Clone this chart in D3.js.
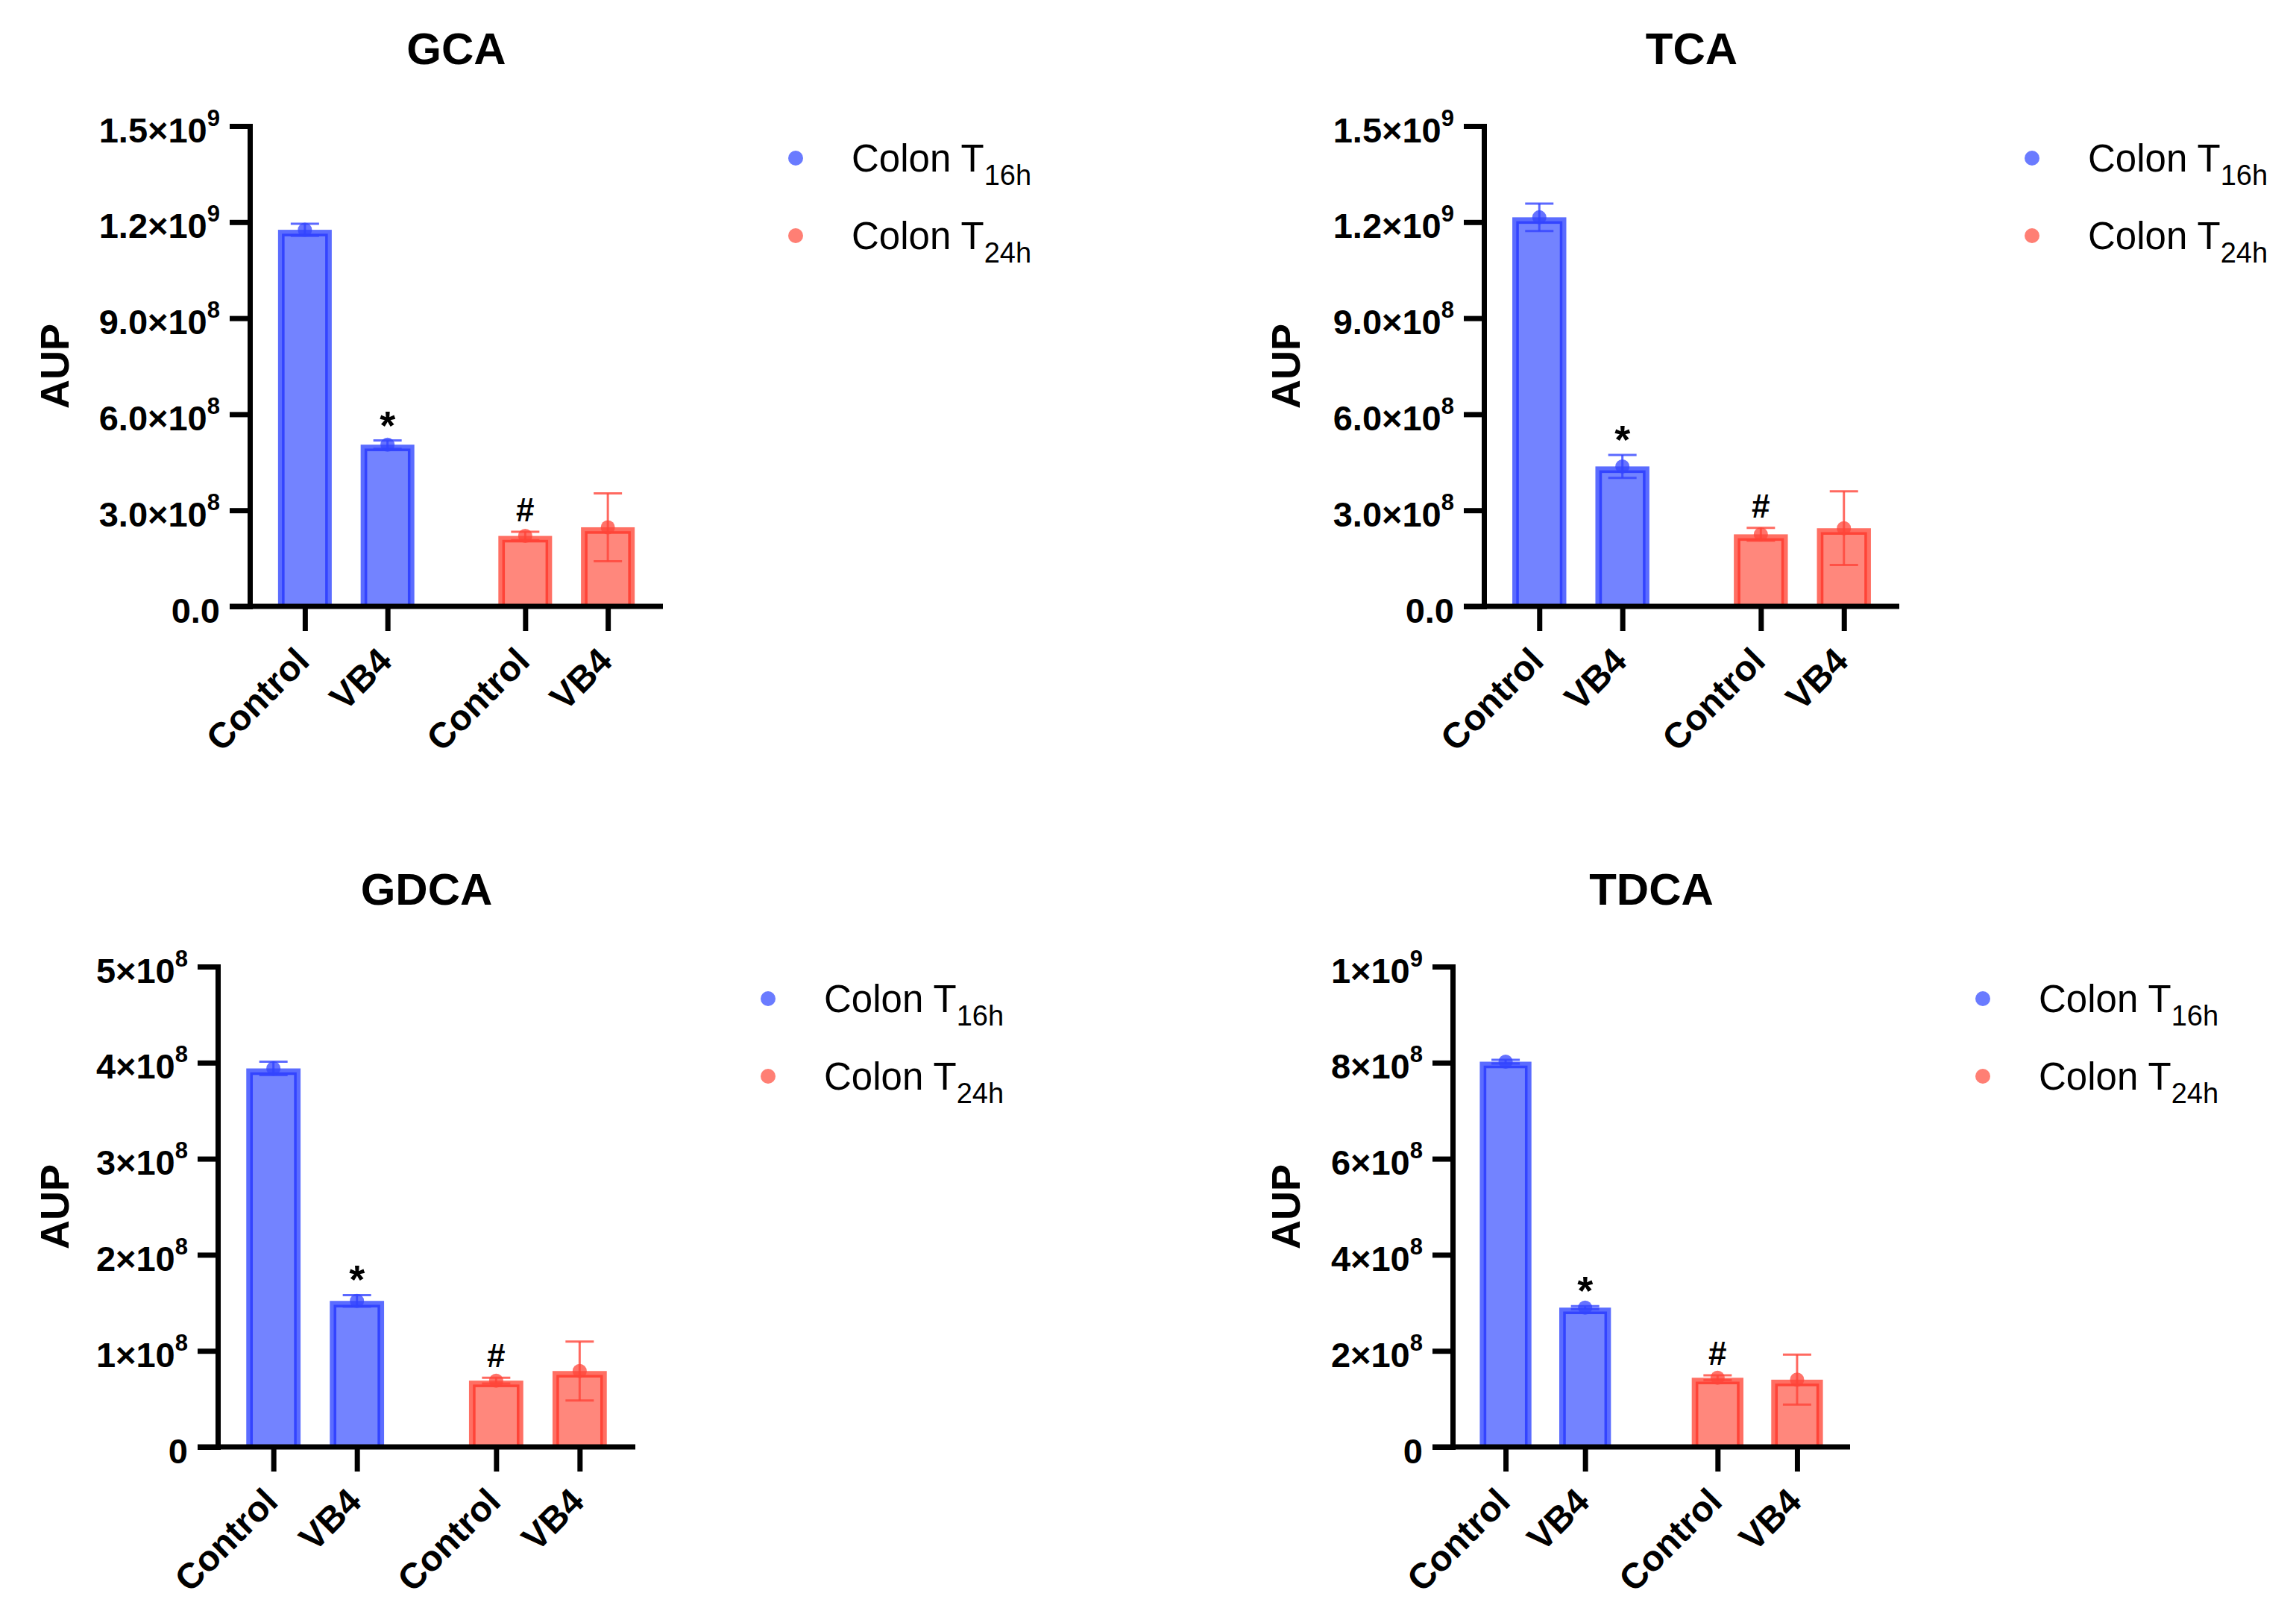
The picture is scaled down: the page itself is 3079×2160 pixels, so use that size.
<!DOCTYPE html>
<html>
<head>
<meta charset="utf-8">
<script src="https://cdn.jsdelivr.net/npm/d3@7"></script>
<style>
  body { margin: 0; background: #fff; }
  text { font-family: "Liberation Sans", Arial, sans-serif; fill: #000; }
</style>
</head>
<body>
<svg id="chart" width="3079" height="2160"></svg>
<script>
const categories = ['Control', 'VB4']
const groups = ['16h', '24h']
const legendBase = 'Colon T'
// significance marks, [group][category]
const sigMarks = [['', '*'], ['#', '']]

// means and SD, [group][category]
const gcaMean = [[1.176e9, 5.05e8], [2.20e8, 2.47e8]]
const gcaSd   = [[1.9e7, 1.3e7], [1.3e7, 1.06e8]]
const tcaMean = [[1.215e9, 4.37e8], [2.25e8, 2.44e8]]
const tcaSd   = [[4.3e7, 3.6e7], [2.0e7, 1.15e8]]
const gdcaMean = [[3.94e8, 1.52e8], [6.9e7, 7.9e7]]
const gdcaSd   = [[7e6, 6e6], [3e6, 3.06e7]]
const tdcaMean = [[8.02e8, 2.90e8], [1.44e8, 1.40e8]]
const tdcaSd   = [[4e6, 3e6], [5e6, 5.2e7]]

const gcaTicks = [0, 3e8, 6e8, 9e8, 1.2e9, 1.5e9]
const gcaTickLabels = ['0.0', '3.0×10^8', '6.0×10^8', '9.0×10^8', '1.2×10^9', '1.5×10^9']
const tcaTicks = [0, 3e8, 6e8, 9e8, 1.2e9, 1.5e9]
const tcaTickLabels = ['0.0', '3.0×10^8', '6.0×10^8', '9.0×10^8', '1.2×10^9', '1.5×10^9']
const gdcaTicks = [0, 1e8, 2e8, 3e8, 4e8, 5e8]
const gdcaTickLabels = ['0', '1×10^8', '2×10^8', '3×10^8', '4×10^8', '5×10^8']
const tdcaTicks = [0, 2e8, 4e8, 6e8, 8e8, 1e9]
const tdcaTickLabels = ['0', '2×10^8', '4×10^8', '6×10^8', '8×10^8', '1×10^9']

const colors = {
    '16h': { band: '#5b6cff', fill: '#7383ff', line: '#3344ff', legend: '#6a7bff' },
    '24h': { band: '#ff6f63', fill: '#ff877c', line: '#ff4438', legend: '#ff7f74' },
}

const panels = [
    { title: 'GCA',  mean: gcaMean,  sd: gcaSd,  ticks: gcaTicks,  labels: gcaTickLabels,  x0: 335,  top: 169,  bottom: 813,  w: 554, aupX: 73 },
    { title: 'TCA',  mean: tcaMean,  sd: tcaSd,  ticks: tcaTicks,  labels: tcaTickLabels,  x0: 1990, top: 169,  bottom: 813,  w: 557, aupX: 1724 },
    { title: 'GDCA', mean: gdcaMean, sd: gdcaSd, ticks: gdcaTicks, labels: gdcaTickLabels, x0: 292,  top: 1296, bottom: 1940, w: 560, aupX: 73 },
    { title: 'TDCA', mean: tdcaMean, sd: tdcaSd, ticks: tdcaTicks, labels: tdcaTickLabels, x0: 1948, top: 1296, bottom: 1940, w: 533, aupX: 1724 },
]

const svg = d3.select('#chart')
svg.append('rect').attr('width', 3079).attr('height', 2160).attr('fill', '#fff')

function writeLabel(sel, label, supSize, supShift) {
    const [base, exp] = label.split('^')
    sel.text(base)
    if (exp) sel.append('tspan').attr('dy', -supShift).style('font-size', supSize + 'px').text(exp)
}

function drawPanel(p) {
    const h = p.bottom - p.top
    const g = svg.append('g').attr('transform', `translate(${p.x0},${p.top})`)

    const y = d3.scaleLinear().domain([0, d3.max(p.ticks)]).range([h, 0])
    const outer = d3.scaleBand().domain(groups).range([0, p.w])
                    .paddingInner(0.25).paddingOuter(0.0625)
    const inner = d3.scaleBand().domain(categories).range([0, outer.bandwidth()])
                    .paddingInner(0.35).paddingOuter(0.175)
    const bw = inner.bandwidth()

    const rows = []
    groups.forEach((grp, gi) => categories.forEach((cat, ci) => {
        rows.push({ grp, cat, key: grp + '|' + cat, mean: p.mean[gi][ci], sd: p.sd[gi][ci], mark: sigMarks[gi][ci] })
    }))
    const cx = d => outer(d.grp) + inner(d.cat) + bw / 2

    // bars
    const bars = g.append('g').selectAll('g').data(rows).join('g')
    bars.append('rect')
        .attr('x', d => cx(d) - bw / 2)
        .attr('y', d => y(d.mean))
        .attr('width', bw)
        .attr('height', d => y(0) - y(d.mean))
        .attr('fill', d => colors[d.grp].band)
    bars.append('rect')
        .attr('x', d => cx(d) - bw / 2 + 7)
        .attr('y', d => y(d.mean) + 7)
        .attr('width', bw - 14)
        .attr('height', d => y(0) - y(d.mean) - 7)
        .attr('fill', d => colors[d.grp].fill)
        .attr('stroke', d => colors[d.grp].line)
        .attr('stroke-width', 3.5)

    // error bars (mean ± SD)
    const capW = 38
    const err = g.append('g').selectAll('g').data(rows).join('g')
        .attr('stroke', d => colors[d.grp].line)
        .attr('stroke-opacity', 0.8)
        .attr('stroke-width', 3)
    err.append('line')
        .attr('x1', cx).attr('x2', cx)
        .attr('y1', d => y(d.mean - d.sd)).attr('y2', d => y(d.mean + d.sd))
    err.append('line')
        .attr('x1', d => cx(d) - capW / 2).attr('x2', d => cx(d) + capW / 2)
        .attr('y1', d => y(d.mean + d.sd)).attr('y2', d => y(d.mean + d.sd))
    err.append('line')
        .attr('x1', d => cx(d) - capW / 2).attr('x2', d => cx(d) + capW / 2)
        .attr('y1', d => y(d.mean - d.sd)).attr('y2', d => y(d.mean - d.sd))

    g.append('g').selectAll('circle').data(rows).join('circle')
        .attr('cx', cx)
        .attr('cy', d => y(d.mean))
        .attr('r', 9.5)
        .attr('fill', d => colors[d.grp].line)
        .attr('fill-opacity', 0.75)

    // significance marks
    g.append('g').selectAll('text').data(rows.filter(d => d.mark)).join('text')
        .attr('x', cx)
        .attr('y', d => y(d.mean + d.sd) - (d.mark === '*' ? 2 : 14))
        .attr('text-anchor', 'middle')
        .style('font-size', d => d.mark === '*' ? '54px' : '44px')
        .style('font-weight', 'bold')
        .text(d => d.mark)

    // y axis
    const yAxis = d3.axisLeft(y).tickValues(p.ticks).tickSize(27).tickSizeOuter(0).tickPadding(13).tickFormat('')
    const ya = g.append('g').call(yAxis)
    ya.select('.domain').attr('stroke-width', 7).attr('stroke-linecap', 'square')
    ya.selectAll('.tick line').attr('stroke-width', 7)
    ya.selectAll('.tick text')
        .attr('dy', '0.45em')
        .style('font-size', '47px')
        .style('font-weight', 'bold')
        .each(function (d) { writeLabel(d3.select(this), p.labels[p.ticks.indexOf(d)], 31, 22) })

    // x axis
    g.append('line')
        .attr('x1', -27).attr('x2', p.w)
        .attr('y1', h).attr('y2', h)
        .attr('stroke', '#000').attr('stroke-width', 7)
    const xPos = d3.scaleOrdinal().domain(rows.map(d => d.key)).range(rows.map(cx))
    const xa = g.append('g').attr('transform', `translate(0,${h})`)
        .call(d3.axisBottom(xPos).tickSize(33).tickSizeOuter(0).tickFormat(k => k.split('|')[1]))
    xa.select('.domain').remove()
    xa.selectAll('.tick line').attr('stroke-width', 7)
    xa.selectAll('.tick text')
        .attr('x', 0).attr('y', 0).attr('dy', 0)
        .attr('transform', 'translate(8,76) rotate(-45)')
        .style('text-anchor', 'end')
        .style('font-size', '48px')
        .style('font-weight', 'bold')

    // title
    g.append('text')
        .attr('x', p.w / 2).attr('y', -83)
        .attr('text-anchor', 'middle')
        .style('font-size', '60px')
        .style('font-weight', 'bold')
        .text(p.title)

    // y label
    svg.append('text')
        .attr('transform', `translate(${p.aupX},${(p.top + p.bottom) / 2}) rotate(-90)`)
        .attr('dy', '0.36em')
        .attr('text-anchor', 'middle')
        .style('font-size', '54px')
        .style('font-weight', 'bold')
        .text('AUP')

    // legend
    const lg = g.append('g').attr('transform', `translate(${p.w + 178},43)`)
    const items = lg.selectAll('g').data(groups).join('g')
        .attr('transform', (d, i) => `translate(0,${i * 104})`)
    items.append('circle').attr('r', 10).attr('fill', d => colors[d].legend)
    const lt = items.append('text').attr('x', 75).attr('y', 18).style('font-size', '51px')
    lt.append('tspan').text(legendBase)
    lt.append('tspan').attr('dy', 18).style('font-size', '38px').text(d => d)
}

panels.forEach(drawPanel)
</script>
</body>
</html>
